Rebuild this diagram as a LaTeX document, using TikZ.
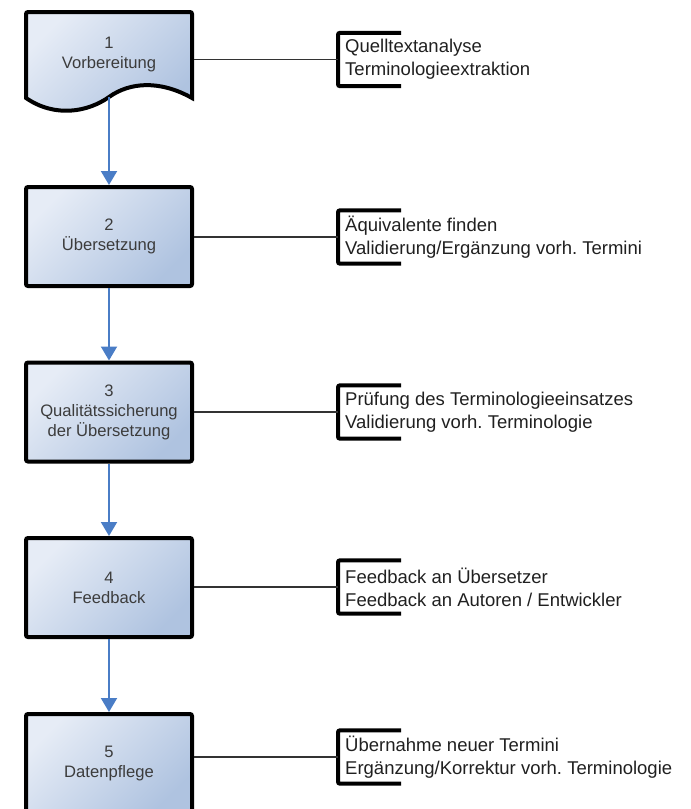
\documentclass[tikz,border=0pt]{standalone}
\usepackage{fontspec}
\setmainfont{Liberation Sans}
\usetikzlibrary{arrows.meta}
\definecolor{boxlight}{HTML}{E6ECF6}
\definecolor{boxdark}{HTML}{AFC3E0}
\definecolor{flowblue}{HTML}{4A7DC6}
\definecolor{boxtext}{HTML}{3C3C3C}
\definecolor{sidetext}{HTML}{202020}
\tikzset{
  stepbox/.style={draw=black, line width=4pt, rounded corners=2pt,
    top color=boxlight, bottom color=boxdark, shading angle=45,
    minimum width=166pt, minimum height=99pt, inner sep=0pt,
    align=center, text=boxtext,
    font=\fontsize{16.6}{20}\selectfont},
  ghostbox/.style={minimum width=166pt, minimum height=86pt, inner sep=0pt,
    align=center, text=boxtext, outer sep=2pt,
    font=\fontsize{16.6}{20}\selectfont},
  sidenote/.style={anchor=west, inner xsep=7pt, inner ysep=0pt,
    minimum height=53pt, align=left, text=sidetext,
    font=\fontsize{18.5}{23}\selectfont},
  bracketline/.style={draw=black, line width=4pt, rounded corners=2pt},
  flow/.style={draw=flowblue, line width=2pt,
    -{Triangle[width=16pt,length=14pt]}},
  link/.style={draw=black!80, line width=1.3pt}
}
\begin{document}
\frenchspacing
\begin{tikzpicture}[x=1pt,y=-1pt]
\useasboundingbox (0,0) rectangle (691,809);
% box 1 (document shape)
\draw[line width=4pt, top color=boxlight, bottom color=boxdark, shading angle=45]
  (26,98) [rounded corners=2pt]-- (26,12) -- (192,12) [sharp corners]-- (192,98)
  .. controls (160,80) and (130,82) .. (109,97)
  .. controls (88,112) and (55,118) .. cycle;
\node[ghostbox] (b1) at (109,55) {1\\Vorbereitung};
\coordinate (b1out) at (109,97);
% boxes 2-5
\node[stepbox] (b2) at (109,236.5) {2\\Übersetzung};
\node[stepbox] (b3) at (109,412) {3\\Qualitätssicherung\\der Übersetzung};
\node[stepbox] (b4) at (109,587.5) {4\\Feedback};
\node[stepbox] (b5) at (109,763.5) {5\\Datenpflege};
% arrows
\draw[flow] (b1out) -- (b2.north);
\draw[flow] (b2.south) -- (b3.north);
\draw[flow] (b3.south) -- (b4.north);
\draw[flow] (b4.south) -- (b5.north);
% side notes
\node[sidenote] (n1) at (338,59.5) {Quelltextanalyse\\Terminologieextraktion};
\node[sidenote] (n2) at (338,237) {Äquivalente finden\\Validierung/Ergänzung vorh. Termini};
\node[sidenote] (n3) at (338,412) {Prüfung des Terminologieeinsatzes\\Validierung vorh. Terminologie};
\node[sidenote] (n4) at (338,587) {Feedback an Übersetzer\\Feedback an Autoren / Entwickler};
\node[sidenote] (n5) at (338,757) {Übernahme neuer Termini\\Ergänzung/Korrektur vorh. Terminologie};
\foreach \n in {n1,n2,n3,n4,n5}{
  \draw[bracketline] ([xshift=63pt]\n.north west) -- (\n.north west)
    -- (\n.south west) -- ([xshift=63pt]\n.south west);
}
% links
\draw[link] (n1.west -| b1.east) -- (n1.west);
\draw[link] (n2.west -| b2.east) -- (n2.west);
\draw[link] (n3.west -| b3.east) -- (n3.west);
\draw[link] (n4.west -| b4.east) -- (n4.west);
\draw[link] (n5.west -| b5.east) -- (n5.west);
\end{tikzpicture}
\end{document}
